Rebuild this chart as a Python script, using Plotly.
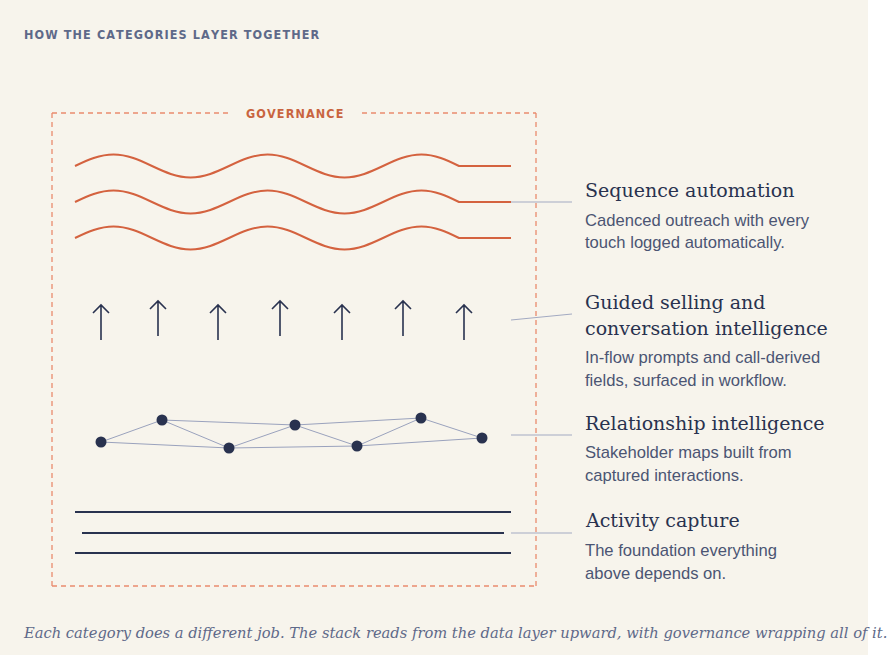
import plotly.graph_objects as go

# ---- content ----
title_text = "HOW THE CATEGORIES LAYER TOGETHER"
frame_label = "GOVERNANCE"
caption = ("Each category does a different job. The stack reads from the data layer upward, "
           "with governance wrapping all of it.")

layer_titles = [
    ["Sequence automation"],
    ["Guided selling and", "conversation intelligence"],
    ["Relationship intelligence"],
    ["Activity capture"],
]
layer_notes = [
    ["Cadenced outreach with every", "touch logged automatically."],
    ["In-flow prompts and call-derived", "fields, surfaced in workflow."],
    ["Stakeholder maps built from", "captured interactions."],
    ["The foundation everything", "above depends on."],
]

# relationship network (nodes and links)
node_x = [101, 162, 229, 295, 357, 421, 482]
node_y = [442, 420, 448, 425, 446, 418, 438]
links = [(0, 1), (1, 2), (2, 3), (3, 4), (4, 5), (5, 6),
         (0, 2), (2, 4), (4, 6), (1, 3), (3, 5)]

# guided-selling arrows
arrow_x = [101, 158, 218, 280, 342, 403, 464]
arrow_lift = [0, 4, 0, 4, 0, 4, 0]

# wave crests (sequence automation)
wave_mid = [166, 202, 238]
crest_x = [75, 113.5, 190.5, 267.5, 344.5, 421.5, 459]
crest_dy = [0, -11.5, 11.5, -11.5, 11.5, -11.5, 0]

# activity capture rails
rail_y = [512, 533, 553]
rail_x0 = [75, 82, 75]
rail_x1 = [511, 504, 511]

# ---- styles ----
CREAM = "#F7F4EC"
NAVY = "#29324F"
SLATE = "#4B5573"
TITLE_SLATE = "#5E6989"
ORANGE = "#D4623F"
DASH = "#EA8B6D"
LEADER = "#A3AAC2"
CONDENSED = "DejaVu Sans Condensed, DejaVu Sans, sans-serif"

fig = go.Figure()
shapes = []
annotations = []

# cream panel
shapes.append(dict(type="rect", x0=0, y0=0, x1=868, y1=655, fillcolor=CREAM,
                   line=dict(width=0), layer="below"))

# governance frame (dashed, gap for label)
fx0, fy0, fx1, fy1 = 52, 113, 536, 586
frame_segments = [
    (fx0, fy0, 230, fy0), (362, fy0, fx1, fy0),
    (fx0, fy0, fx0, fy1), (fx1, fy0, fx1, fy1), (fx0, fy1, fx1, fy1),
]
for x0, y0, x1, y1 in frame_segments:
    shapes.append(dict(type="line", x0=x0, y0=y0, x1=x1, y1=y1,
                       line=dict(color=DASH, width=1.3, dash="5px,4px")))


def spaced(s, gap="\u200a"):
    return gap.join(s)


annotations.append(dict(x=(fx0 + fx1) / 2, y=fy0, text=spaced(frame_label), showarrow=False,
                        xanchor="center", yanchor="middle",
                        font=dict(family=CONDENSED, size=12.5, color="#C9643F", weight="bold")))

annotations.append(dict(x=22, y=34, text=spaced(title_text), showarrow=False,
                        xanchor="left", yanchor="middle",
                        font=dict(family=CONDENSED, size=12.5, color=TITLE_SLATE, weight="bold")))

# waves as cubic bezier quarter segments
for mid in wave_mid:
    path = f"M {crest_x[0]},{mid + crest_dy[0]}"
    for i in range(1, len(crest_x)):
        xa, xb = crest_x[i - 1], crest_x[i]
        ya, yb = mid + crest_dy[i - 1], mid + crest_dy[i]
        L = xb - xa
        if crest_dy[i - 1] == 0:   # mid -> crest
            c1 = (xa + 0.3265 * L, ya + 0.5128 * (yb - ya))
            c2 = (xa + 0.6381 * L, yb)
            path += f" C {c1[0]},{c1[1]} {c2[0]},{c2[1]} {xb},{yb}"
        elif crest_dy[i] == 0:     # crest -> mid
            c1 = (xa + 0.3619 * L, ya)
            c2 = (xa + 0.6735 * L, ya + 0.4872 * (yb - ya))
            path += f" C {c1[0]},{c1[1]} {c2[0]},{c2[1]} {xb},{yb}"
        else:                      # crest -> crest through mid
            xm, ym = (xa + xb) / 2, mid
            h = L / 2
            c1 = (xa + 0.3619 * h, ya)
            c2 = (xa + 0.6735 * h, ya + 0.4872 * (ym - ya))
            path += f" C {c1[0]},{c1[1]} {c2[0]},{c2[1]} {xm},{ym}"
            c1 = (xm + 0.3265 * h, ym + 0.5128 * (yb - ym))
            c2 = (xm + 0.6381 * h, yb)
            path += f" C {c1[0]},{c1[1]} {c2[0]},{c2[1]} {xb},{yb}"
    path += f" L 511,{mid}"
    shapes.append(dict(type="path", path=path, line=dict(color=ORANGE, width=2)))

# arrows
for ax, lift in zip(arrow_x, arrow_lift):
    tip, base = 305 - lift, 340 - lift
    shapes.append(dict(type="path",
                       path=f"M {ax},{base} L {ax},{tip} M {ax - 8},{tip + 8} L {ax},{tip} L {ax + 8},{tip + 8}",
                       line=dict(color=NAVY, width=1.6)))

# network links and nodes
lx, ly = [], []
for a, b in links:
    lx += [node_x[a], node_x[b], None]
    ly += [node_y[a], node_y[b], None]
fig.add_trace(go.Scatter(x=lx, y=ly, mode="lines", line=dict(color="#9AA2BD", width=1),
                         hoverinfo="skip", showlegend=False))
fig.add_trace(go.Scatter(x=node_x, y=node_y, mode="markers",
                         marker=dict(size=11, color=NAVY, line=dict(width=0)),
                         hoverinfo="skip", showlegend=False))

# rails
for y, x0, x1 in zip(rail_y, rail_x0, rail_x1):
    shapes.append(dict(type="line", x0=x0, y0=y, x1=x1, y1=y, line=dict(color=NAVY, width=1.8)))

# leader lines
leaders = [((511, 202), (572, 202)), ((511, 320), (572, 314)),
           ((511, 435), (572, 435)), ((511, 533), (572, 533))]
for (x0, y0), (x1, y1) in leaders:
    shapes.append(dict(type="line", x0=x0, y0=y0, x1=x1, y1=y1, line=dict(color=LEADER, width=1)))

# right side text
title_y = [[190], [302, 328], [423], [520]]
note_y = [[220, 242], [357, 380], [452, 475], [550, 573]]
for titles, ty, notes, ny in zip(layer_titles, title_y, layer_notes, note_y):
    for t, y in zip(titles, ty):
        annotations.append(dict(x=583, y=y, text=t, showarrow=False, xanchor="left", yanchor="middle",
                                font=dict(family="DejaVu Serif", size=19, color=NAVY)))
    for t, y in zip(notes, ny):
        annotations.append(dict(x=583, y=y, text=t, showarrow=False, xanchor="left", yanchor="middle",
                                font=dict(family="Liberation Sans, Arial", size=16.6, color=SLATE)))

annotations.append(dict(x=21, y=632, text=f"<i>{caption}</i>", showarrow=False,
                        xanchor="left", yanchor="middle",
                        font=dict(family="DejaVu Serif", size=14.7, color="#5E6989")))

fig.update_layout(
    width=892, height=657,
    margin=dict(l=0, r=0, t=0, b=0),
    paper_bgcolor="white", plot_bgcolor="rgba(0,0,0,0)",
    xaxis=dict(range=[0, 892], visible=False, fixedrange=True),
    yaxis=dict(range=[657, 0], visible=False, fixedrange=True),
    shapes=shapes, annotations=annotations,
    showlegend=False, hovermode=False,
)

# drop the page's default body margin so the figure sits at the window origin
fig.write_html("out.html", config={"displayModeBar": False},
               post_script="document.body.style.margin='0';")
